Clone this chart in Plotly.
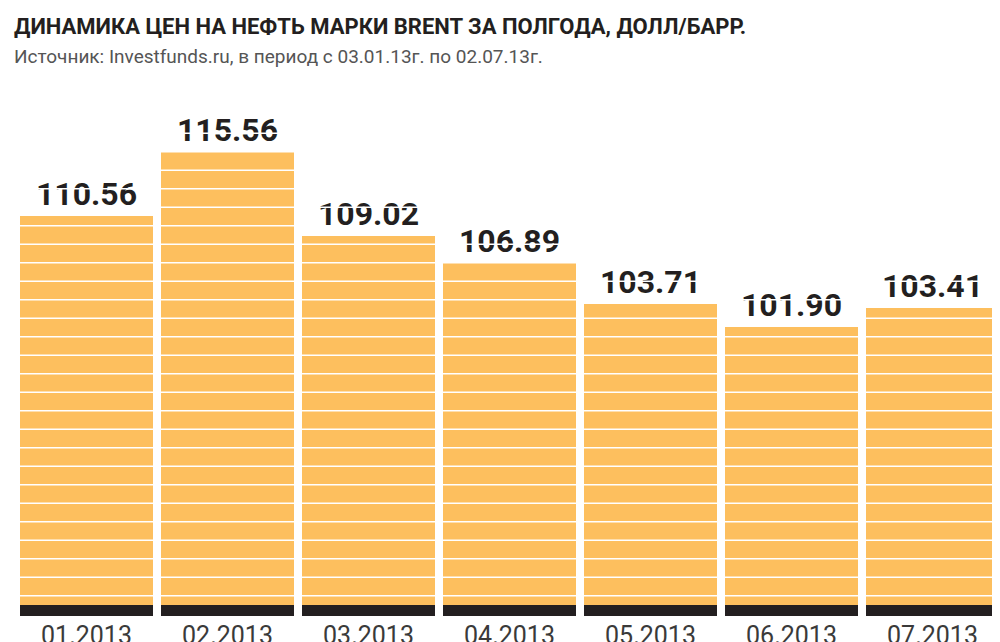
import plotly.graph_objects as go

months = ['01.2013', '02.2013', '03.2013', '04.2013', '05.2013', '06.2013', '07.2013']
prices = [110.56, 115.56, 109.02, 106.89, 103.71, 101.90, 103.41]

base = 79.31
y_top = 120.56
font = 'Roboto, sans-serif'

fig = go.Figure()
fig.add_trace(go.Bar(
    x=months, y=[p - base for p in prices], base=base,
    width=0.95, marker=dict(color='#FDBF5E', line=dict(width=0)),
    text=[f'<b>{p:.2f}</b>' for p in prices], textposition='outside',
    textfont=dict(family=font, size=32, color='#231f20'),
    cliponaxis=False, hoverinfo='skip'))
# black base strip
fig.add_trace(go.Bar(
    x=months, y=[0.86] * len(months), base=base, width=0.95,
    marker=dict(color='#231f20', line=dict(width=0)), hoverinfo='skip'))

# white stripes across the bars
shapes = []
yv = 80.9
while yv < y_top:
    shapes.append(dict(type='line', xref='paper', yref='y', x0=0, x1=1, y0=yv, y1=yv,
                       line=dict(color='white', width=1.5), layer='above'))
    yv += 1.445

fig.update_layout(
    width=1000, height=642,
    paper_bgcolor='white', plot_bgcolor='white',
    margin=dict(l=8, r=5, t=80, b=34, autoexpand=False),
    barmode='overlay', bargap=0, showlegend=False,
    shapes=shapes,
    xaxis=dict(showgrid=False, showline=False, ticks='', range=[-0.5, 6.5], automargin=False,
               ticklabelstandoff=2,
               tickfont=dict(family=font, size=25, color='#3a3a3a')),
    yaxis=dict(range=[base, y_top], visible=False),
    annotations=[
        dict(text='<b>ДИНАМИКА ЦЕН НА НЕФТЬ МАРКИ BRENT ЗА ПОЛГОДА, ДОЛЛ/БАРР.</b>',
             xref='paper', yref='paper', x=-0.004, y=1.0, yshift=62, xanchor='left', yanchor='middle',
             showarrow=False, font=dict(family=font, size=22, color='#231f20')),
        dict(text='Источник: Investfunds.ru, в период с 03.01.13г. по 02.07.13г.',
             xref='paper', yref='paper', x=-0.004, y=1.0, yshift=32, xanchor='left', yanchor='middle',
             showarrow=False, font=dict(family=font, size=19, color='#555555')),
    ],
)

fig.write_html('out.html')
